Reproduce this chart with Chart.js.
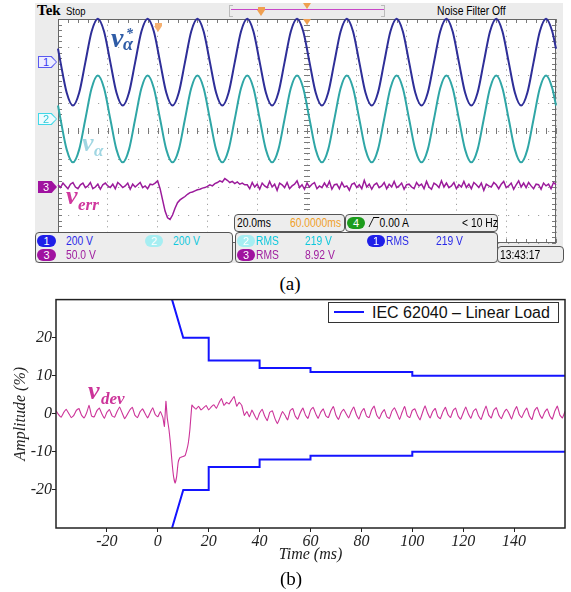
<!DOCTYPE html>
<html>
<head>
<meta charset="utf-8">
<script src="https://cdn.jsdelivr.net/npm/chart.js@4.4.1/dist/chart.umd.min.js"></script>
<style>
body{margin:0;width:571px;height:592px;background:#fff;position:relative;overflow:hidden;font-family:"Liberation Sans",Arial,sans-serif}
.a{position:absolute;white-space:nowrap}
.n{transform:scaleX(0.86);transform-origin:0 0}
.box{position:absolute;border:1px solid #555;border-radius:4px;background:#ededed;box-sizing:border-box}
.t{position:absolute;font-size:12px;line-height:12px;white-space:nowrap;transform:scaleX(0.86);transform-origin:0 0}
.pill{position:absolute;border-radius:6px;color:#fff;font-size:11px;line-height:12px;height:12px;width:19px;text-align:center}
.mk{position:absolute;width:19px;height:12px;clip-path:polygon(0 0,72% 0,100% 50%,72% 100%,0 100%)}
.mk span{position:absolute;left:1px;top:1px;width:17px;height:10px;clip-path:polygon(0 0,70% 0,100% 50%,70% 100%,0 100%);font-size:11px;line-height:10px;text-indent:4px}
.tri{position:absolute;width:0;height:0;border-left:4px solid transparent;border-right:4px solid transparent;border-top:6px solid #f0a050}
.lbl{position:absolute;font-family:"Liberation Serif","DejaVu Serif",serif;font-weight:bold;font-style:italic;white-space:nowrap;line-height:1}
.cap{position:absolute;font-family:"Liberation Serif","DejaVu Serif",serif;font-size:19px;line-height:19px;width:60px;text-align:center}
</style>
</head>
<body>
<!-- (a) oscilloscope -->
<div class="a" style="left:35px;top:3px;width:528px;height:260px;background:#ececec"></div>
<div class="a" style="left:58px;top:19px;width:498px;height:224px;background:#fff"></div>
<div class="a" style="left:37px;top:2px;font-family:'Liberation Serif',serif;font-weight:bold;font-size:15px">Tek</div>
<div class="a n" style="left:66px;top:5px;font-size:11px">Stop</div>
<div class="a" style="left:229px;top:5px;width:3px;height:10px;border:1px solid #bbb;border-right:none"></div>
<div class="a" style="left:231px;top:9px;width:153px;height:0;border-top:1.5px solid #c848c8"></div>
<div class="a" style="left:381px;top:5px;width:3px;height:10px;border:1px solid #bbb;border-left:none"></div>
<div class="a" style="left:258px;top:7px;width:7px;height:3px;background:#f0a050"></div>
<div class="tri" style="left:257px;top:10px"></div>
<div class="tri" style="left:303px;top:3px"></div>
<div class="a n" style="left:437px;top:4px;font-size:12px">Noise Filter Off</div>

<div class="a" style="left:50px;top:14px;width:514px;height:234px"><canvas id="scopeCanvas" width="514" height="234"></canvas></div>

<div class="tri" style="left:303px;top:19px"></div>
<div class="a" style="left:155px;top:23px;width:7px;height:3px;background:#f5b070"></div>
<div class="tri" style="left:154px;top:26px;border-top-color:#f5b070"></div>

<div class="mk" style="left:38px;top:56px;background:#5a5af0"><span style="background:#eeeeff;color:#3a3af0">1</span></div>
<div class="mk" style="left:38px;top:113px;background:#40d8e8"><span style="background:#effcff;color:#30c8d8">2</span></div>
<div class="mk" style="left:38px;top:181px;background:#a012a0"><span style="background:#a012a0;color:#fff">3</span></div>

<div class="lbl" style="left:111px;top:24px;font-size:28px;color:#2f5ca6">v</div>
<div class="lbl" style="left:126px;top:27px;font-size:14px;color:#2f5ca6">*</div>
<div class="lbl" style="left:123px;top:35px;font-size:18px;color:#2f5ca6">α</div>
<div class="lbl" style="left:82px;top:130px;font-size:26px;color:#a0d6e2">v</div>
<div class="lbl" style="left:94px;top:142px;font-size:17px;color:#a0d6e2">α</div>
<div class="lbl" style="left:66px;top:183px;font-size:26px;color:#d0389e">v</div>
<div class="lbl" style="left:78px;top:196px;font-size:17px;color:#d0389e">err</div>

<div class="box" style="left:234px;top:214px;width:111px;height:18px"></div>
<div class="t" style="left:237px;top:217px">20.0ms</div>
<div class="t" style="left:290px;top:217px;color:#f0a028">60.0000ms</div>
<div class="box" style="left:345px;top:214px;width:153px;height:18px"></div>
<div class="pill" style="left:347px;top:217px;width:18px;background:#1c9c1c">4</div>
<div class="t" style="left:371px;top:217px"><span style="display:inline-block;width:6px;height:9px;border-top:1px solid #000;transform:skewX(-30deg);border-left:1px solid #000;margin-right:3px"></span>0.00 A</div>
<div class="t" style="left:462px;top:217px">&lt; 10 Hz</div>

<div class="box" style="left:35px;top:232px;width:198px;height:31px"></div>
<div class="pill" style="left:37px;top:235px;background:#1f1fe8">1</div>
<div class="t" style="left:66px;top:235px;color:#2a2ae8">200 V</div>
<div class="pill" style="left:145px;top:235px;width:18px;background:#a6eef2">2</div>
<div class="t" style="left:173px;top:235px;color:#10c8dc">200 V</div>
<div class="pill" style="left:37px;top:249px;background:#a012a0">3</div>
<div class="t" style="left:66px;top:249px;color:#a020a0">50.0 V</div>

<div class="box" style="left:235px;top:232px;width:263px;height:31px"></div>
<div class="pill" style="left:237px;top:235px;width:18px;background:#a6eef2">2</div>
<div class="t" style="left:256px;top:235px;color:#10c8dc">RMS</div>
<div class="t" style="left:305px;top:235px;color:#10c8dc">219 V</div>
<div class="pill" style="left:367px;top:235px;width:18px;background:#1f1fe8">1</div>
<div class="t" style="left:386px;top:235px;color:#2a2ae8">RMS</div>
<div class="t" style="left:436px;top:235px;color:#2a2ae8">219 V</div>
<div class="pill" style="left:237px;top:249px;width:18px;background:#a012a0">3</div>
<div class="t" style="left:256px;top:249px;color:#a020a0">RMS</div>
<div class="t" style="left:305px;top:249px;color:#a020a0">8.92 V</div>

<div class="box" style="left:497px;top:246px;width:67px;height:17px"></div>
<div class="t" style="left:500px;top:249px">13:43:17</div>

<div class="cap" style="left:260px;top:274px">(a)</div>

<!-- (b) deviation vs IEC limits -->
<div class="a" style="left:0;top:290px;width:571px;height:280px"><canvas id="devCanvas" width="571" height="280"></canvas></div>
<div class="a" style="left:328px;top:302px;width:231px;height:21px;border:1px solid #333;box-sizing:border-box;background:#fff"></div>
<div class="a" style="left:334px;top:311px;width:30px;height:2px;background:#1414ff"></div>
<div class="a" style="left:372px;top:303px;font-size:16px;line-height:19px;color:#111">IEC 62040 – Linear Load</div>
<div class="lbl" style="left:88px;top:378px;font-size:26px;color:#cc3399">v</div>
<div class="lbl" style="left:101px;top:390px;font-size:17px;color:#cc3399">dev</div>
<div class="cap" style="left:261px;top:569px">(b)</div>

<script>
'use strict';

// ---- (a) scope traces: time in ms, channel values in volts ----
const scopeTime = [0,1,3.5,6,8.5,11,13.5,16,18.5,21,23.5,26,28.5,31,33.5,36,38.5,41,43.5,46,48.5,51,53.5,56,58.5,61,63.5,66,68.5,71,73.5,76,78.5,81,83.5,86,88.5,91,93.5,96,98.5,101,103.5,106,108.5,111,113.5,116,118.5,121,123.5,126,128.5,131,133.5,136,138.5,141,143.5,146,148.5,151,153.5,156,158.5,161,163.5,166,168.5,171,173.5,176,178.5,181,183.5,186,188.5,191,193.5,196,198.5,200];
const ch1Volts = [96,
  0,-219,-310,-219,0,219,310,219, 0,-219,-310,-219,0,219,310,219,
  0,-219,-310,-219,0,219,310,219, 0,-219,-310,-219,0,219,310,219,
  0,-219,-310,-219,0,219,310,219, 0,-219,-310,-219,0,219,310,219,
  0,-219,-310,-219,0,219,310,219, 0,-219,-310,-219,0,219,310,219,
  0,-219,-310,-219,0,219,310,219, 0,-219,-310,-219,0,219,310,219,
  96];
const ch2Volts = [96,
  0,-219,-310,-219,0,219,310,219, 0,-219,-310,-219,0,219,310,219,
  0,-219,-310,-219,0,219,310,219, 0,-219,-310,-219,0,219,310,219,
  0,-219,-310,-219,0,219,310,219, 0,-219,-310,-219,0,219,310,219,
  0,-219,-310,-219,0,219,310,219, 0,-219,-310,-219,0,219,310,219,
  0,-219,-310,-219,0,219,310,219, 0,-219,-310,-219,0,219,310,219,
  96];
// error channel, one sample per ms from 0 ms
const ch3Volts = [
  2,-3,5,0,-5,3,6,-2,-5,2, 5,-3,0,6,-5,-2,3,-6,2,5, 0,-3,3,-5,6,2,-3,0,5,-6, 3,-2,2,6,-3,0,-5,3,2,5, 9,
  -5,-25,-45,-57,-60,-52,-40,-30,-25,-22, -19,-15,-12,-11,-9,-7,-6,-4,-3,-1,
  2,0,4,6,9,7,13,10,6,8,4,7,3,5,2,
  2,-5,6,-2,3,-6,5,0,-3,8, -2,3,-8,5,2,-3,6,-5,0,3, 9,-3,2,-6,5,-2,3,6,-5,0,
  -3,5,-2,8,-6,2,3,-5,6,-2, 0,-8,3,5,-3,2,-5,10,-2,3, -6,2,5,-3,0,6,-5,3,-2,8,
  -3,0,5,-6,2,3,-2,-5,6,0, 3,-5,8,-2,-6,5,2,-3,9,-2, 5,-3,0,6,-5,2,-2,8,-3,3,
  -5,6,2,-3,5,-8,3,0,-2,6, 2,-5,3,8,-3,0,5,-6,2,9, -2,5,-3,6,0,-5,3,2,-6,5,
  0,3,-5,6,2];
const voltsPerDiv = [200, 200, 50];
const channelPosDiv = [2.46, 0.43, -1.96];

// ---- (b) v_dev (%) and IEC 62040 limits ----
const vdevPreValues = [0.8,-0.2,-0.9,0.3,1.2,0.1,-1.0,-0.4,0.9,1.4, -0.3,-1.1,0.2,2.2,-0.6,-0.8,0.7,1.5,0.0,-1.2,
  0.4,1.1,-0.5,-0.9,0.6,1.8,0.2,-1.3,-0.2,1.0, 1.7,-0.4,-1.0,0.5,1.3,0.1,-1.1,0.3,1.6,-0.2, -0.8,0.6,-1.0]; // t = -40..2 ms
const vdevTransTime = [2.6,3.2,3.7,4.4,5.0,5.6,6.2,6.8,7.4,8.0,8.7,9.5,10.7,11.4,12.0,12.6,13.4];
const vdevTransValues = [-3.3,3.3,-1,-4.2,-8,-12.8,-16.5,-18.2,-16.5,-12.8,-11.5,-11.3,-11,-9.5,-7.6,-4.2,2.3];
const vdevPostValues = [1.8,1.2,2.0,1.0,1.6,2.2,1.0,1.8,2.4,1.4, 2.8,4.0,2.2,3.0,2.6,3.6,4.5,2.0,3.0,2.2, -0.4,0.6,
  -0.8,1.0,-0.4,-1.6,0.2,1.2,-0.6,-1.8,0.4,0.8, -1.2,-2.6,-1.0,0.6,-0.4,-1.6,0.8,1.4,-0.6,-1.4, 0.3,1.5,-0.3,-1.2,0.9,
  1.7,0.1,-1.2,0.4,1.3,-0.5,-1.0,0.8,1.9,-0.4, -1.5,0.3,1.2,0.0,-1.1,0.6,1.8,-0.2,-1.4,0.5,
  1.4,-0.6,-1.0,1.0,2.0,-0.3,-1.3,0.2,1.1,-0.8, -1.2,0.7,1.6,0.1,-1.5,0.4,1.9,-0.5,-1.0,0.9,
  1.3,-0.4,-1.6,0.3,2.1,0.2,-1.1,0.6,1.4,-0.7, -1.3,0.5,1.7,-0.2,-1.0,0.8,1.5,-0.6,-1.4,0.2,
  1.8,0.0,-1.2,0.7,1.3,-0.5,-1.5,0.4,2.0,-0.3, -1.1,0.9,1.6,-0.4,-1.3,0.3,1.2,0.1,-1.4,0.6,
  1.9,-0.2,-1.0,0.5,1.5,-0.6,-1.5,0.8,1.7,-0.1, -1.2,0.4,1.3,-0.5,-1.4,0.7,2.0,-0.3,-1.1,0.6]; // t = 14..160 ms
const limitTime  = [5.6,10,20,20,40,40,60,60,100,100,160];
const limitUpper = [30,20,20,14,14,12,12,11,11,10,10];
const limitLower = [-30,-20,-20,-14,-14,-12,-12,-11,-11,-10,-10];
const timeTicks = [-20,0,20,40,60,80,100,120,140];
const ampTicks  = [-20,-10,0,10,20];

// ---------- scope chart ----------
function trace(times, volts, ch){
  return volts.map((v,i) => ({ x: times[i], y: channelPosDiv[ch] + v / voltsPerDiv[ch] }));
}
const ch3Time = ch3Volts.map((v,i) => i);

const scopeDecor = {
  id: 'scopeDecor',
  beforeDatasetsDraw(chart){
    const {ctx, chartArea: a, scales: {x, y}} = chart;
    const xc = x.getPixelForValue(100), yc = y.getPixelForValue(0);
    ctx.save();
    ctx.strokeStyle = '#7a7a7a';
    ctx.lineWidth = 1;
    ctx.beginPath();
    for(let t = 0; t <= 200; t += 4){
      const px = Math.round(x.getPixelForValue(t)) + 0.5;
      ctx.moveTo(px, a.top); ctx.lineTo(px, a.top + 4);
      ctx.moveTo(px, a.bottom - 4); ctx.lineTo(px, a.bottom);
      ctx.moveTo(px, yc - 3); ctx.lineTo(px, yc + 3);
    }
    for(let d = -4; d <= 4.001; d += 0.2){
      const py = Math.round(y.getPixelForValue(d)) + 0.5;
      ctx.moveTo(a.left, py); ctx.lineTo(a.left + 4, py);
      ctx.moveTo(a.right - 4, py); ctx.lineTo(a.right, py);
      ctx.moveTo(xc - 3, py); ctx.lineTo(xc + 3, py);
    }
    ctx.stroke();
    ctx.strokeStyle = '#666';
    ctx.strokeRect(a.left + 0.5, a.top + 0.5, a.right - a.left - 1, a.bottom - a.top - 1);
    ctx.restore();
  }
};

new Chart(document.getElementById('scopeCanvas'), {
  type: 'line',
  data: {
    datasets: [
      { label: 'ch1', data: trace(scopeTime, ch1Volts, 0), borderColor: '#2e2e98', borderWidth: 2, cubicInterpolationMode: 'monotone', clip: 4 },
      { label: 'ch2', data: trace(scopeTime, ch2Volts, 1), borderColor: '#2fa6a6', borderWidth: 2, cubicInterpolationMode: 'monotone', clip: 4 },
      { label: 'ch3', data: trace(ch3Time, ch3Volts, 2), borderColor: '#9b1b9b', borderWidth: 1.5, clip: 4 }
    ]
  },
  options: {
    responsive: false, animation: false,
    layout: { padding: { left: 8, top: 5, right: 8, bottom: 5 } },
    elements: { point: { radius: 0 } },
    plugins: { legend: { display: false }, tooltip: { enabled: false } },
    scales: {
      x: { type: 'linear', min: 0, max: 200, ticks: { display: false, stepSize: 20 },
           grid: { color: '#a0a0a0', drawTicks: false }, border: { display: false, dash: [1.2, 4.4] },
           afterFit: s => { s.height = 0; } },
      y: { type: 'linear', min: -4, max: 4, ticks: { display: false, stepSize: 1 },
           grid: { color: '#a0a0a0', drawTicks: false }, border: { display: false, dash: [1.2, 8.8] },
           afterFit: s => { s.width = 0; } }
    }
  },
  plugins: [scopeDecor]
});

// ---------- deviation chart ----------
const vdevData = []
  .concat(vdevPreValues.map((v,i) => ({ x: -40 + i, y: v })))
  .concat(vdevTransTime.map((t,i) => ({ x: t, y: vdevTransValues[i] })))
  .concat(vdevPostValues.map((v,i) => ({ x: 14 + i, y: v })));

const frameBox = {
  id: 'frameBox',
  afterDatasetsDraw(chart){
    const {ctx, chartArea: a} = chart;
    ctx.save();
    ctx.strokeStyle = '#222';
    ctx.lineWidth = 1.5;
    ctx.strokeRect(a.left, a.top, a.right - a.left, a.bottom - a.top);
    ctx.restore();
  }
};

const serifTick = { family: "'Liberation Serif','DejaVu Serif',serif", style: 'italic', size: 16 };

new Chart(document.getElementById('devCanvas'), {
  type: 'line',
  data: {
    datasets: [
      { label: 'v_dev', data: vdevData, borderColor: '#cc3399', borderWidth: 1.1, tension: 0.1 },
      { label: 'IEC 62040 – Linear Load', data: limitTime.map((t,i) => ({ x: t, y: limitUpper[i] })), borderColor: '#1414ff', borderWidth: 2 },
      { label: 'IEC 62040 lower', data: limitTime.map((t,i) => ({ x: t, y: limitLower[i] })), borderColor: '#1414ff', borderWidth: 2 }
    ]
  },
  options: {
    responsive: false, animation: false,
    layout: { padding: { left: 0, top: 9, right: 6, bottom: 0 } },
    elements: { point: { radius: 0 } },
    plugins: { legend: { display: false }, tooltip: { enabled: false } },
    scales: {
      x: { type: 'linear', min: -40, max: 160,
           afterBuildTicks: s => { s.ticks = timeTicks.map(v => ({ value: v })); },
           ticks: { font: serifTick, color: '#222', padding: 0, maxRotation: 0 },
           grid: { drawOnChartArea: false, tickLength: 4, color: '#222' },
           border: { display: false },
           title: { display: true, text: 'Time (ms)', font: serifTick, color: '#222', padding: { top: 0, bottom: 6 } },
           afterFit: s => { s.height = 42; } },
      y: { type: 'linear', min: -30, max: 30,
           afterBuildTicks: s => { s.ticks = ampTicks.map(v => ({ value: v })); },
           ticks: { font: serifTick, color: '#222', padding: 0 },
           grid: { drawOnChartArea: false, tickLength: 4, color: '#222' },
           border: { display: false },
           title: { display: true, text: 'Amplitude (%)', font: serifTick, color: '#222', padding: { top: 11, bottom: 0 } },
           afterFit: s => { s.width = 56; } }
    }
  },
  plugins: [frameBox]
});
</script>
</body>
</html>
